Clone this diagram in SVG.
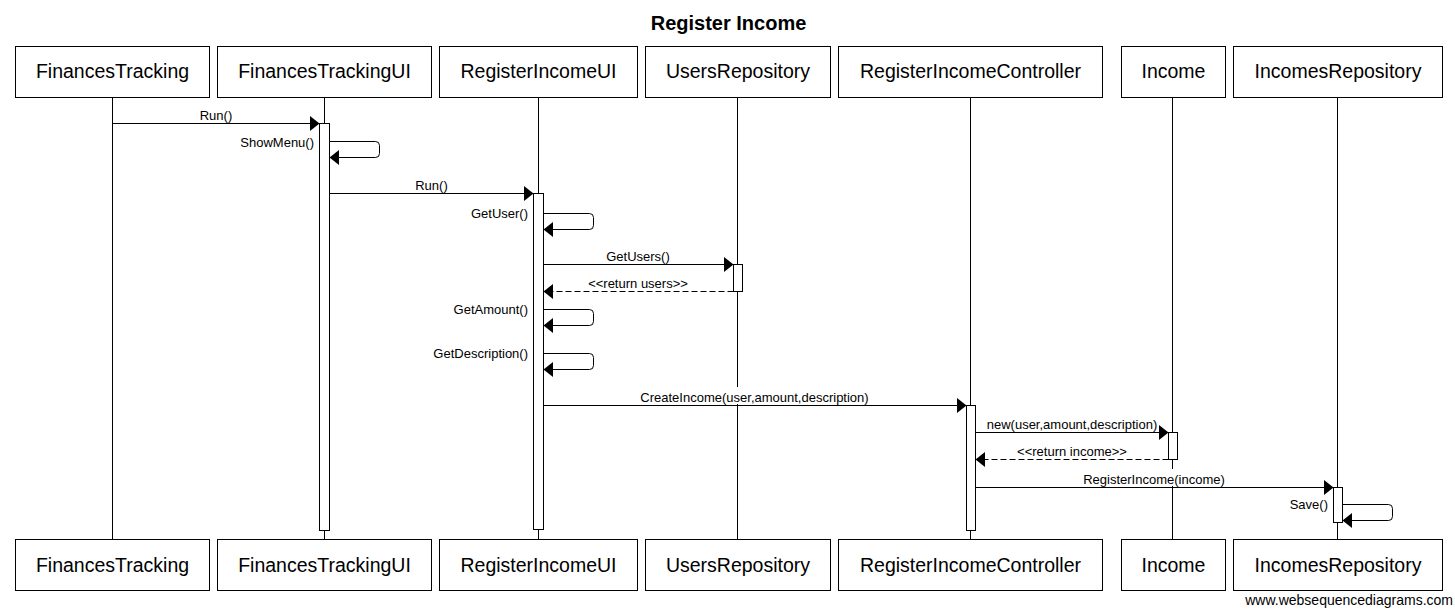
<svg xmlns="http://www.w3.org/2000/svg" width="1455" height="613" viewBox="0 0 1455 613">
<style>
  .box { fill: #ffffff; stroke: #000000; stroke-width: 1; }
  .life { stroke: #000000; stroke-width: 1; fill: none; }
  .act { fill: #ffffff; stroke: #000000; stroke-width: 1; }
  .pname { font-family: "Liberation Sans", Arial, sans-serif; font-size: 19.5px; text-anchor: middle; fill: #000000; }
  .title { font-family: "Liberation Sans", Arial, sans-serif; font-size: 20px; font-weight: bold; text-anchor: middle; fill: #000000; }
  .msg { stroke: #000000; stroke-width: 1; fill: none; marker-end: url(#head); }
  .ret { stroke-dasharray: 6,3; }
  .lbl { font-family: "Liberation Sans", Arial, sans-serif; font-size: 13px; text-anchor: middle; fill: #000000; }
  .lbl-r { font-family: "Liberation Sans", Arial, sans-serif; font-size: 13px; text-anchor: end; fill: #000000; }
  .bg { fill: #ffffff; stroke: none; }
  .foot { font-family: "Liberation Sans", Arial, sans-serif; font-size: 14px; text-anchor: end; fill: #000000; }
</style>
<defs>
  <marker id="head" markerUnits="userSpaceOnUse" markerWidth="10" markerHeight="15" viewBox="0 0 9 14" refX="9" refY="7" orient="auto">
    <path d="M0,0 L9,7 L0,14 z" fill="#000000"/>
  </marker>
</defs>
<rect x="0" y="0" width="1455" height="613" fill="#ffffff"/>
<text class="title" x="728.5" y="30">Register Income</text>

<g id="FinancesTracking">
  <line class="life" x1="112.5" y1="97" x2="112.5" y2="539"/>
  <rect class="box" x="15.5" y="46.5" width="194" height="51"/>
  <text class="pname" x="112.5" y="78">FinancesTracking</text>
  <rect class="box" x="15.5" y="539.5" width="194" height="51"/>
  <text class="pname" x="112.5" y="572">FinancesTracking</text>
</g>
<g id="FinancesTrackingUI">
  <line class="life" x1="324.5" y1="97" x2="324.5" y2="539"/>
  <rect class="act" x="319.5" y="123.5" width="10" height="407"/>
  <rect class="box" x="217.5" y="46.5" width="214" height="51"/>
  <text class="pname" x="324.5" y="78">FinancesTrackingUI</text>
  <rect class="box" x="217.5" y="539.5" width="214" height="51"/>
  <text class="pname" x="324.5" y="572">FinancesTrackingUI</text>
</g>
<g id="RegisterIncomeUI">
  <line class="life" x1="538.5" y1="97" x2="538.5" y2="539"/>
  <rect class="act" x="533.5" y="193.5" width="10" height="336"/>
  <rect class="box" x="439.5" y="46.5" width="198" height="51"/>
  <text class="pname" x="538.5" y="78">RegisterIncomeUI</text>
  <rect class="box" x="439.5" y="539.5" width="198" height="51"/>
  <text class="pname" x="538.5" y="572">RegisterIncomeUI</text>
</g>
<g id="UsersRepository">
  <line class="life" x1="737.5" y1="97" x2="737.5" y2="539"/>
  <rect class="act" x="733.5" y="264.5" width="9" height="27"/>
  <rect class="box" x="645.5" y="46.5" width="185" height="51"/>
  <text class="pname" x="738" y="78">UsersRepository</text>
  <rect class="box" x="645.5" y="539.5" width="185" height="51"/>
  <text class="pname" x="738" y="572">UsersRepository</text>
</g>
<g id="RegisterIncomeController">
  <line class="life" x1="970.5" y1="97" x2="970.5" y2="539"/>
  <rect class="act" x="966.5" y="405.5" width="9" height="125"/>
  <rect class="box" x="838.5" y="46.5" width="264" height="51"/>
  <text class="pname" x="970.5" y="78">RegisterIncomeController</text>
  <rect class="box" x="838.5" y="539.5" width="264" height="51"/>
  <text class="pname" x="970.5" y="572">RegisterIncomeController</text>
</g>
<g id="Income">
  <line class="life" x1="1172.5" y1="97" x2="1172.5" y2="539"/>
  <rect class="act" x="1168.5" y="432.5" width="9" height="27"/>
  <rect class="box" x="1121.5" y="46.5" width="104" height="51"/>
  <text class="pname" x="1173.5" y="78">Income</text>
  <rect class="box" x="1121.5" y="539.5" width="104" height="51"/>
  <text class="pname" x="1173.5" y="572">Income</text>
</g>
<g id="IncomesRepository">
  <line class="life" x1="1337.5" y1="97" x2="1337.5" y2="539"/>
  <rect class="act" x="1333.5" y="487.5" width="9" height="35"/>
  <rect class="box" x="1233.5" y="46.5" width="209" height="51"/>
  <text class="pname" x="1338" y="78">IncomesRepository</text>
  <rect class="box" x="1233.5" y="539.5" width="209" height="51"/>
  <text class="pname" x="1338" y="572">IncomesRepository</text>
</g>

<g id="connectors">
  <text class="lbl" x="216" y="120">Run()</text>
  <path class="msg" d="M112.5,123.5 H319.5"/>

  <text class="lbl-r" x="314" y="147">ShowMenu()</text>
  <path class="msg" d="M329.5,141.5 H375.5 Q379.5,141.5 379.5,145.5 V153.5 Q379.5,157.5 375.5,157.5 H329.5"/>

  <text class="lbl" x="431.5" y="190">Run()</text>
  <path class="msg" d="M329.5,193.5 H533.5"/>

  <text class="lbl-r" x="528" y="218">GetUser()</text>
  <path class="msg" d="M543.5,213.5 H589.5 Q593.5,213.5 593.5,217.5 V225.5 Q593.5,229.5 589.5,229.5 H543.5"/>

  <text class="lbl" x="638" y="261">GetUsers()</text>
  <path class="msg" d="M543.5,264.5 H733.5"/>

  <text class="lbl" x="638" y="288">&lt;&lt;return users&gt;&gt;</text>
  <path class="msg ret" d="M733.5,291.5 H543.5"/>

  <text class="lbl-r" x="528" y="314">GetAmount()</text>
  <path class="msg" d="M543.5,309.5 H589.5 Q593.5,309.5 593.5,313.5 V321.5 Q593.5,325.5 589.5,325.5 H543.5"/>

  <text class="lbl-r" x="528" y="358">GetDescription()</text>
  <path class="msg" d="M543.5,353.5 H589.5 Q593.5,353.5 593.5,357.5 V365.5 Q593.5,369.5 589.5,369.5 H543.5"/>

  <rect class="bg" x="638" y="387" width="233" height="17"/>
  <text class="lbl" x="754.5" y="402">CreateIncome(user,amount,description)</text>
  <path class="msg" d="M543.5,405.5 H966.5"/>

  <text class="lbl" x="1072" y="429">new(user,amount,description)</text>
  <path class="msg" d="M975.5,432.5 H1168.5"/>

  <text class="lbl" x="1072" y="456">&lt;&lt;return income&gt;&gt;</text>
  <path class="msg ret" d="M1168.5,459.5 H975.5"/>

  <rect class="bg" x="1081" y="469" width="146" height="17"/>
  <text class="lbl" x="1154" y="484">RegisterIncome(income)</text>
  <path class="msg" d="M975.5,487.5 H1333.5"/>

  <text class="lbl-r" x="1328" y="509">Save()</text>
  <path class="msg" d="M1342.5,504.5 H1388.5 Q1392.5,504.5 1392.5,508.5 V516.5 Q1392.5,520.5 1388.5,520.5 H1342.5"/>
</g>

<text class="foot" x="1453" y="605">www.websequencediagrams.com</text>
</svg>
